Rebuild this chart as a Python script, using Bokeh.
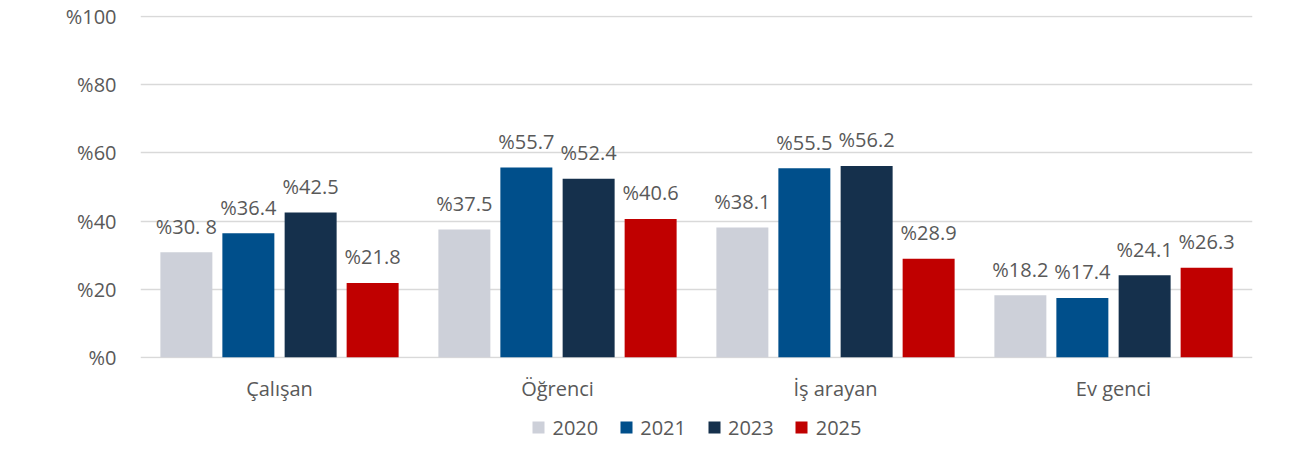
from bokeh.plotting import figure
from bokeh.layouts import column
from bokeh.models import ColumnDataSource, FactorRange, Range1d, LabelSet, Legend, LegendItem, FixedTicker
from bokeh.transform import dodge
from bokeh.core.properties import value
from bokeh.embed import file_html
from bokeh.resources import INLINE

categories = ["Çalışan", "Öğrenci", "İş arayan", "Ev genci"]
years = ["2020", "2021", "2023", "2025"]
v2020 = [30.8, 37.5, 38.1, 18.2]
v2021 = [36.4, 55.7, 55.5, 17.4]
v2023 = [42.5, 52.4, 56.2, 24.1]
v2025 = [21.8, 40.6, 28.9, 26.3]
labels2020 = ["%30. 8", "%37.5", "%38.1", "%18.2"]
labels2021 = ["%36.4", "%55.7", "%55.5", "%17.4"]
labels2023 = ["%42.5", "%52.4", "%56.2", "%24.1"]
labels2025 = ["%21.8", "%40.6", "%28.9", "%26.3"]
y_ticks = [0, 20, 40, 60, 80, 100]

colors = ["#cdd0d9", "#004f8b", "#15304c", "#c00000"]
offsets = [-0.335, -0.112, 0.112, 0.335]
series = [v2020, v2021, v2023, v2025]
series_labels = [labels2020, labels2021, labels2023, labels2025]

FONT = "Open Sans"
FS = "20px"
TXT = "#595959"

p = figure(x_range=FactorRange(*categories, range_padding=0), y_range=Range1d(-0.4, 100.4),
           width=1276, height=404, output_backend="svg", toolbar_location=None,
           min_border_left=140, min_border_right=24, min_border_top=15, min_border_bottom=43)
p.outline_line_color = None
p.background_fill_color = "white"

for yr, vals, labs, col, off in zip(years, series, series_labels, colors, offsets):
    src = ColumnDataSource(dict(cat=categories, val=vals, lab=labs))
    p.vbar(x=dodge("cat", off, range=p.x_range), top="val", bottom=0, width=0.187, source=src,
           fill_color=col, line_color=None)
    ls = LabelSet(x=dodge("cat", off, range=p.x_range), y="val", text="lab", source=src,
                  y_offset=26, text_align="center", text_baseline="middle",
                  text_font=value(FONT), text_font_size=value(FS), text_color=TXT)
    p.add_layout(ls)

p.yaxis.ticker = FixedTicker(ticks=y_ticks)
p.yaxis.major_label_overrides = {t: "%" + str(t) for t in y_ticks}
for ax in (p.xaxis[0], p.yaxis[0]):
    ax.axis_line_color = None
    ax.major_tick_line_color = None
    ax.minor_tick_line_color = None
    ax.major_label_text_font = FONT
    ax.major_label_text_font_size = FS
    ax.major_label_text_color = TXT
p.yaxis.major_label_standoff = 18
p.xaxis.major_label_standoff = 10
p.xgrid.grid_line_color = None
p.ygrid.grid_line_color = "#d9d9d9"
p.ygrid.grid_line_width = 1.5

# legend strip below the chart
pl = figure(width=1276, height=36, output_backend="svg", toolbar_location=None,
            x_range=Range1d(0, 1), y_range=Range1d(0, 1),
            min_border_left=66, min_border_right=0, min_border_top=9, min_border_bottom=0,
            x_axis_type=None, y_axis_type=None)
pl.outline_line_color = None
pl.xgrid.grid_line_color = None
pl.ygrid.grid_line_color = None
items = []
for yr, col in zip(years, colors):
    r = pl.vbar(x=[-5], top=[-5], bottom=[-5], width=0.001, fill_color=col, line_color=None)
    items.append(LegendItem(label=yr, renderers=[r]))
legend = Legend(items=items, orientation="horizontal", location="center",
                label_text_font=FONT, label_text_font_size=FS, label_text_color=TXT,
                glyph_width=15, glyph_height=15, spacing=20, padding=0, margin=0,
                label_standoff=7, border_line_color=None, background_fill_alpha=0)
pl.add_layout(legend, "center")

layout = column(p, pl, spacing=0)
open("out.html", "w").write(file_html(layout, INLINE))
